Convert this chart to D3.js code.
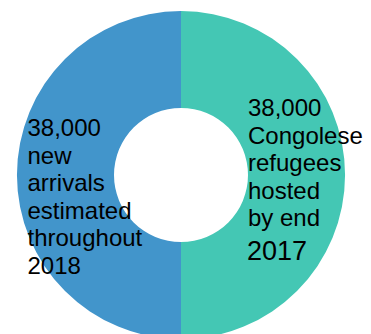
<!DOCTYPE html>
<html>
<head>
<meta charset="utf-8">
<script src="https://cdn.jsdelivr.net/npm/d3@7"></script>
<style>
  html, body { margin: 0; padding: 0; background: #fff; }
  svg { display: block; }
</style>
</head>
<body>
<svg id="chart" width="371" height="334"></svg>
<script>
const categories = ["Congolese refugees hosted by end 2017", "New arrivals estimated throughout 2018"];
const values = [38000, 38000];
const colors = ["#44c7b4", "#4295cb"];
const rightLines = ["38,000", "Congolese", "refugees", "hosted", "by end"];
const rightLast = "2017";
const leftLines = ["38,000", "new", "arrivals", "estimated", "throughout", "2018"];

const svg = d3.select("#chart");
const cx = 181, cy = 175, rOuter = 164, rInner = 67;

const pie = d3.pie().sort(null).value(d => d);
const arc = d3.arc().innerRadius(rInner).outerRadius(rOuter);
const color = d3.scaleOrdinal().domain(categories).range(colors);

const g = svg.append("g").attr("transform", `translate(${cx},${cy})`);
g.selectAll("path")
  .data(pie(values))
  .join("path")
  .attr("d", arc)
  .attr("fill", (d, i) => color(categories[i]));

const font = "'Liberation Sans', Arial, Helvetica, sans-serif";
const lh = 27.6;

const rt = svg.append("g");
rt.selectAll("text")
  .data(rightLines)
  .join("text")
  .attr("x", 248)
  .attr("y", (d, i) => 116 + i * lh)
  .attr("font-family", font)
  .attr("font-size", 24)
  .attr("fill", "#000")
  .text(d => d);
rt.append("text")
  .attr("x", 247)
  .attr("y", 260)
  .attr("font-family", font)
  .attr("font-size", 27)
  .attr("fill", "#000")
  .text(rightLast);

svg.append("g").selectAll("text")
  .data(leftLines)
  .join("text")
  .attr("x", 27.5)
  .attr("y", (d, i) => 136 + i * lh)
  .attr("font-family", font)
  .attr("font-size", 24)
  .attr("fill", "#000")
  .text(d => d);
</script>
</body>
</html>
